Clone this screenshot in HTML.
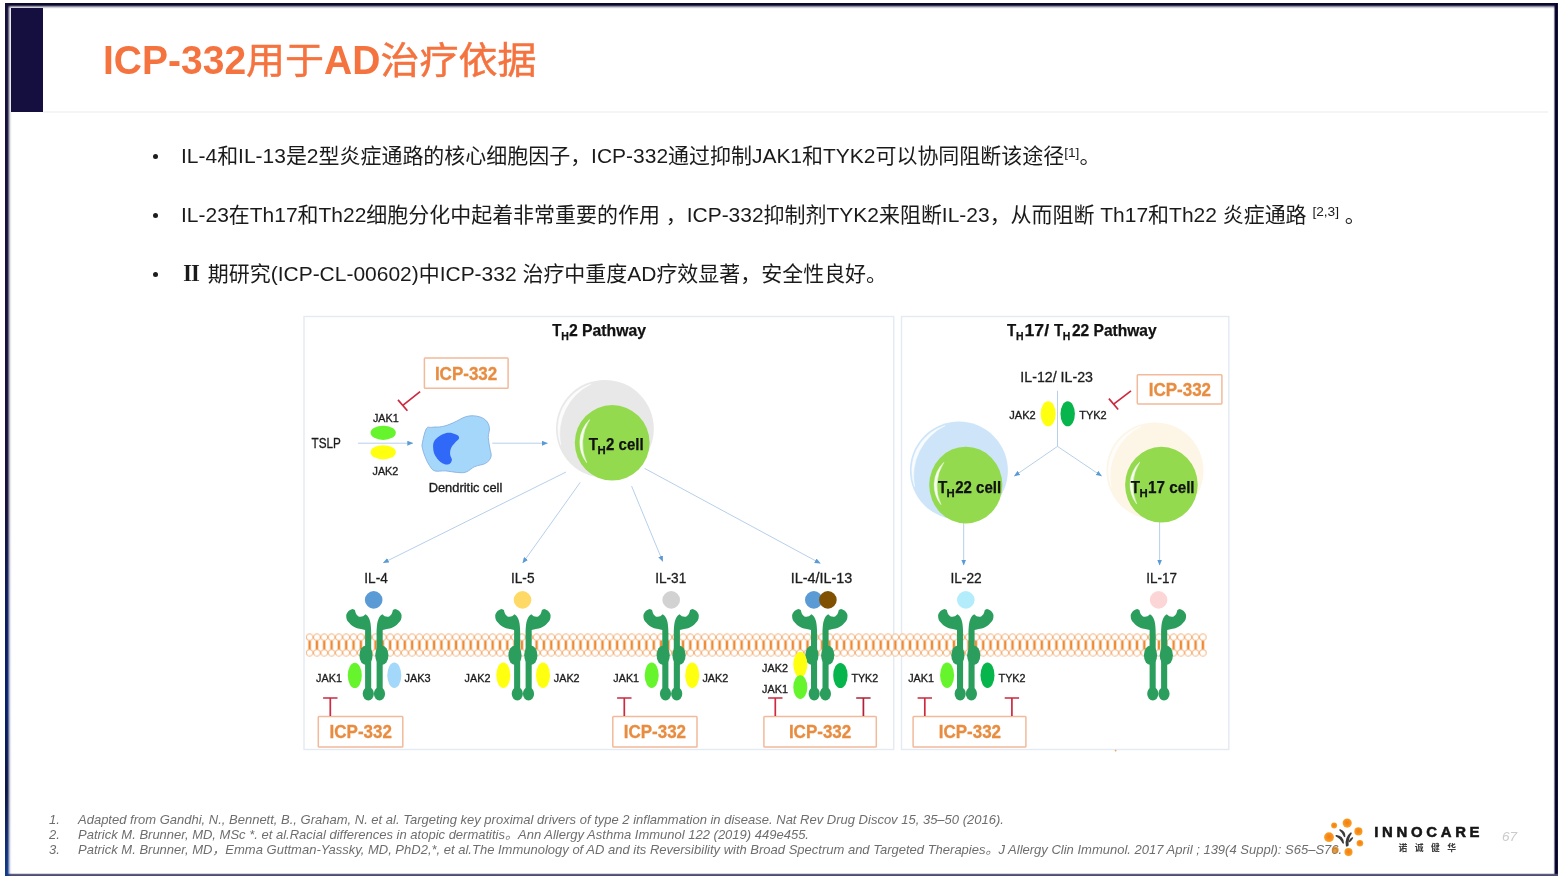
<!DOCTYPE html>
<html lang="zh-CN">
<head>
<meta charset="utf-8">
<title>ICP-332用于AD治疗依据</title>
<style>
html,body{margin:0;padding:0;background:#fff;}
body{width:1562px;height:880px;position:relative;overflow:hidden;font-family:"Liberation Sans","Noto Sans CJK SC",sans-serif;color:#1c1c1c;}
.abs{position:absolute;}
.bl,.fn,.fnn,#title,#pg{will-change:transform;}
#ft{left:5px;top:2.6px;width:1553px;height:6px;background:linear-gradient(to bottom,rgba(11,9,48,.8) 0,#0b0930 0.5px,#0b0930 2.1px,rgba(11,9,48,.6) 3px,rgba(11,9,48,.28) 4.1px,rgba(11,9,48,.08) 5px,rgba(11,9,48,0) 6px);}
#fl{left:4.9px;top:3px;width:7px;height:873px;background:linear-gradient(to bottom,#14103a 0,#14103a 58%,#0b1a5c 68%,#06206c 80%,#0b1446 90%,#123a8c 100%);-webkit-mask-image:linear-gradient(to right,#000 0,#000 2.3px,rgba(0,0,0,.8) 3px,rgba(0,0,0,.45) 4px,rgba(0,0,0,.16) 5px,rgba(0,0,0,.04) 6px,rgba(0,0,0,0) 7px);mask-image:linear-gradient(to right,#000 0,#000 2.3px,rgba(0,0,0,.8) 3px,rgba(0,0,0,.45) 4px,rgba(0,0,0,.16) 5px,rgba(0,0,0,.04) 6px,rgba(0,0,0,0) 7px);}
#fr{left:1553.4px;top:3px;width:4.7px;height:873px;background:linear-gradient(to right,rgba(12,10,48,0) 0,rgba(12,10,48,.1) 1px,rgba(12,10,48,.7) 1.7px,#0c0a30 2.5px,#020028 4px,#1a183c 4.7px);}
#fb{left:5px;top:872.6px;width:1553px;height:3.4px;background:linear-gradient(to bottom,rgba(70,69,110,0) 0,rgba(70,69,110,.35) 0.8px,#525178 1.6px,#4a4972 2.8px,rgba(70,69,110,.7) 3.4px);}
#bar{left:11px;top:8px;width:31.6px;height:103.7px;background:#150f40;}
#rule{left:43px;top:110.5px;width:1505px;height:2.4px;background:#f5f4f7;}
#title{left:102.5px;top:35.9px;font-size:39px;line-height:50px;color:#f4733f;font-weight:bold;white-space:nowrap;}
#title .cn{font-weight:400;-webkit-text-stroke:0.5px #f4733f;display:inline-block;transform:scaleY(0.955);transform-origin:50% 82%;}
#title .la{display:inline-block;transform:scaleY(1.045);transform-origin:50% 78%;}
.bl{white-space:nowrap;font-size:20.98px;line-height:30px;color:#1a1a1a;left:181px;}
.bl sup{font-size:13.7px;line-height:0;vertical-align:baseline;position:relative;top:-5.8px;}
.dot{width:5.4px;height:5.4px;border-radius:50%;background:#1d1d1d;left:153.1px;margin-top:-0.4px;}
.fn{white-space:nowrap;font-size:13px;line-height:15px;font-style:italic;color:#6e6e6e;left:77.5px;}
.fnn{white-space:nowrap;font-size:13px;line-height:15px;font-style:italic;color:#6e6e6e;left:49px;}
#pg{left:1502px;top:829.4px;font-size:13.6px;line-height:16px;color:#cbcbcb;font-style:italic;}
</style>
</head>
<body>
<div id="ft" class="abs"></div><div id="fr" class="abs"></div><div id="fb" class="abs"></div><div id="fl" class="abs"></div>
<div id="bar" class="abs"></div>
<div id="rule" class="abs"></div>
<div id="title" class="abs"><span class="la">ICP-332</span><span class="cn">用于</span><span class="la">AD</span><span class="cn">治疗依据</span></div>

<div class="abs dot" style="top:154px"></div>
<div class="abs bl" id="b1" style="top:141.3px">IL-4和IL-13是2型炎症通路的核心细胞因子，ICP-332通过抑制JAK1和TYK2可以协同阻断该途径<sup>[1]</sup>。</div>
<div class="abs dot" style="top:213px"></div>
<div class="abs bl" id="b2" style="top:200.3px">IL-23在Th17和Th22细胞分化中起着非常重要的作用 ，ICP-332抑制剂TYK2来阻断IL-23，从而阻断 Th17和Th22 炎症通路 <sup>[2,3]</sup> 。</div>
<div class="abs dot" style="top:272px"></div>
<div class="abs bl" id="b3" style="top:259.3px"><span style="font-family:'Noto Serif CJK SC',serif;font-weight:900;line-height:0">Ⅱ</span> 期研究(ICP-CL-00602)中ICP-332 治疗中重度AD疗效显著，安全性良好。</div>

<svg class="abs" style="left:0;top:0" width="1562" height="880" viewBox="0 0 1562 880" font-family="Liberation Sans, sans-serif">
<defs>
<pattern id="mem" x="305.94" y="633.4" width="7.322" height="23.2" patternUnits="userSpaceOnUse">
<path d="M3.661 6.5V16.7" stroke="#ee8a34" stroke-width="2.5" fill="none"/>
<circle cx="3.661" cy="3.8" r="3.3" fill="#fff" stroke="#f3b27c" stroke-width="0.95"/>
<circle cx="3.661" cy="19.4" r="3.3" fill="#fff" stroke="#f3b27c" stroke-width="0.95"/>
</pattern>
<g id="rec" fill="#2b9e5d">
<g id="half">
<path d="M-2.7 34C-2.7 28-3.1 22-4.8 18.5C-5.8 16.5-7.1 15-8.4 14.3C-9.8 16-11.8 16.8-13.5 16.8C-16.1 16.8-18.2 14.6-19 10L-21.2 9.1C-23.4 9.5-25.3 11-26.1 12C-27.2 13.5-27.7 14.5-27.7 15.7C-27.7 19-26.8 21-25 22.5C-22.5 25.5-20.5 26.5-19.6 27C-16.7 28.5-14.8 28.8-13 29L-8.8 29.9L-8.8 90L-2.7 90Z"/>
<ellipse cx="-7.9" cy="55.2" rx="6.6" ry="9.8"/>
<ellipse cx="-5.6" cy="93.8" rx="5.6" ry="6.7"/>
</g>
<use href="#half" transform="scale(-1,1)"/>
</g>
<marker id="ah" viewBox="0 0 6 5" refX="5.5" refY="2.5" markerWidth="6" markerHeight="5" markerUnits="userSpaceOnUse" orient="auto"><path d="M0 0L6 2.5L0 5Z" fill="#5b9bd5"/></marker>
</defs>
<rect x="304" y="316.5" width="589.7" height="433" fill="#fff" stroke="#e3eaf3" stroke-width="1.4"/>
<rect x="901.5" y="316.5" width="327.3" height="433" fill="#fff" stroke="#e3eaf3" stroke-width="1.4"/>
<text y="335.7" font-size="16.5" font-weight="bold" fill="#111" stroke="#111" stroke-width="0.25"><tspan x="552.3" textLength="9.2" lengthAdjust="spacingAndGlyphs">T</tspan><tspan x="561.2" dy="4.3" font-size="10.8" textLength="7.6" lengthAdjust="spacingAndGlyphs">H</tspan><tspan x="568.9" dy="-4.3" textLength="77.2" lengthAdjust="spacingAndGlyphs">2 Pathway</tspan></text>
<text y="335.7" font-size="16.5" font-weight="bold" fill="#111" stroke="#111" stroke-width="0.25"><tspan x="1007.1" textLength="9.2" lengthAdjust="spacingAndGlyphs">T</tspan><tspan x="1016.0" dy="4.3" font-size="10.8" textLength="7.6" lengthAdjust="spacingAndGlyphs">H</tspan><tspan x="1024.5" dy="-4.3" textLength="24.6" lengthAdjust="spacingAndGlyphs">17/</tspan></text>
<text y="335.7" font-size="16.5" font-weight="bold" fill="#111" stroke="#111" stroke-width="0.25"><tspan x="1053.9" textLength="9.2" lengthAdjust="spacingAndGlyphs">T</tspan><tspan x="1062.8" dy="4.3" font-size="10.8" textLength="7.6" lengthAdjust="spacingAndGlyphs">H</tspan><tspan x="1071.9" dy="-4.3" textLength="84.8" lengthAdjust="spacingAndGlyphs">22 Pathway</tspan></text>
<rect x="305.94" y="633.4" width="900.62" height="23.2" fill="url(#mem)"/>
<line x1="357.9" y1="443.2" x2="412.8" y2="443.2" stroke="#aecae8" stroke-width="0.9" marker-end="url(#ah)"/>
<line x1="492.3" y1="443.2" x2="547.4" y2="443.2" stroke="#aecae8" stroke-width="0.9" marker-end="url(#ah)"/>
<line x1="565.9" y1="472.1" x2="383.4" y2="562.8" stroke="#aecae8" stroke-width="0.9" marker-end="url(#ah)"/>
<line x1="580.2" y1="482.4" x2="522.8" y2="562.9" stroke="#aecae8" stroke-width="0.9" marker-end="url(#ah)"/>
<line x1="631.6" y1="486.1" x2="662.7" y2="561.4" stroke="#aecae8" stroke-width="0.9" marker-end="url(#ah)"/>
<line x1="644.6" y1="468.4" x2="820.2" y2="563.3" stroke="#aecae8" stroke-width="0.9" marker-end="url(#ah)"/>
<line x1="1057.5" y1="390.8" x2="1057.5" y2="446.4" stroke="#aecae8" stroke-width="0.9"/>
<line x1="1057.5" y1="446.4" x2="1014.4" y2="476" stroke="#aecae8" stroke-width="0.9" marker-end="url(#ah)"/>
<line x1="1057.5" y1="446.4" x2="1101.5" y2="476" stroke="#aecae8" stroke-width="0.9" marker-end="url(#ah)"/>
<line x1="963.7" y1="523" x2="963.7" y2="565" stroke="#aecae8" stroke-width="0.9" marker-end="url(#ah)"/>
<line x1="1159.6" y1="522" x2="1159.6" y2="565" stroke="#aecae8" stroke-width="0.9" marker-end="url(#ah)"/>
<circle cx="604.9" cy="428.8" r="48.9" fill="#e8e8e8"/>
<path d="M560.7 444.9A47.0 47.0 0 0 1 591.2 383.9A55.7 55.7 0 0 0 560.7 444.9Z" fill="#fff" stroke="#fff" stroke-width="0.5" stroke-linejoin="round" opacity="0.88"/>
<ellipse cx="612.2" cy="442.8" rx="37.4" ry="37.8" fill="#94da4f"/>
<path d="M586.7 462.7A32.4 32.4 0 0 1 589.7 419.5A44.6 44.6 0 0 0 586.7 462.7Z" fill="#fff" stroke="#fff" stroke-width="0.5" stroke-linejoin="round" opacity="0.93"/>
<circle cx="958.9" cy="470.6" r="49.0" fill="#cee5f9"/>
<path d="M914.6 486.7A47.1 47.1 0 0 1 945.1 425.6A55.8 55.8 0 0 0 914.6 486.7Z" fill="#fff" stroke="#fff" stroke-width="0.5" stroke-linejoin="round" opacity="0.88"/>
<ellipse cx="965.8" cy="485.1" rx="36.6" ry="38.4" fill="#94da4f"/>
<path d="M940.9 504.6A31.6 31.6 0 0 1 943.8 462.4A44.0 44.0 0 0 0 940.9 504.6Z" fill="#fff" stroke="#fff" stroke-width="0.5" stroke-linejoin="round" opacity="0.93"/>
<circle cx="1154.9" cy="470.9" r="48.5" fill="#fdf5e5"/>
<path d="M1111.1 486.8A46.6 46.6 0 0 1 1141.3 426.3A55.3 55.3 0 0 0 1111.1 486.8Z" fill="#fff" stroke="#fff" stroke-width="0.5" stroke-linejoin="round" opacity="0.88"/>
<ellipse cx="1161.4" cy="484.7" rx="36.3" ry="37.9" fill="#94da4f"/>
<path d="M1136.7 504.0A31.3 31.3 0 0 1 1139.7 462.2A43.7 43.7 0 0 0 1136.7 504.0Z" fill="#fff" stroke="#fff" stroke-width="0.5" stroke-linejoin="round" opacity="0.93"/>
<text y="450.0" font-size="16.9" font-weight="bold" fill="#111" stroke="#111" stroke-width="0.25"><tspan x="588.8" textLength="9.3" lengthAdjust="spacingAndGlyphs">T</tspan><tspan x="597.4" dy="4.1" font-size="11.4" textLength="8.2" lengthAdjust="spacingAndGlyphs">H</tspan><tspan x="606.0" dy="-4.1" textLength="37.6" lengthAdjust="spacingAndGlyphs">2 cell</tspan></text>
<text y="492.6" font-size="16.9" font-weight="bold" fill="#111" stroke="#111" stroke-width="0.25"><tspan x="938.0" textLength="9.3" lengthAdjust="spacingAndGlyphs">T</tspan><tspan x="946.6" dy="4.1" font-size="11.4" textLength="8.2" lengthAdjust="spacingAndGlyphs">H</tspan><tspan x="955.2" dy="-4.1" textLength="46.0" lengthAdjust="spacingAndGlyphs">22 cell</tspan></text>
<text y="492.6" font-size="16.9" font-weight="bold" fill="#111" stroke="#111" stroke-width="0.25"><tspan x="1130.8" textLength="9.3" lengthAdjust="spacingAndGlyphs">T</tspan><tspan x="1139.4" dy="4.1" font-size="11.4" textLength="8.2" lengthAdjust="spacingAndGlyphs">H</tspan><tspan x="1148.0" dy="-4.1" textLength="46.6" lengthAdjust="spacingAndGlyphs">17 cell</tspan></text>
<path d="M422.4 442.8C423.1 439.2 424.6 431.6 426.3 428.8C428.0 426.0 428.6 427.7 431.6 427.3C434.6 426.9 438.4 427.3 442.4 426.5C446.4 425.7 448.8 424.6 453.2 422.8C457.6 421.0 461.8 417.8 466.2 416.6C470.6 415.4 473.4 415.6 477.0 416.2C480.6 416.8 483.3 418.0 485.6 420.1C487.9 422.2 488.9 424.5 489.4 427.7C489.9 430.9 488.2 433.6 488.3 437.4C488.4 441.2 489.4 444.6 489.9 448.2C490.4 451.8 491.8 454.0 491.0 456.8C490.2 459.6 488.6 461.5 485.6 463.3C482.6 465.1 478.4 465.0 474.8 466.6C471.2 468.2 469.4 470.9 466.2 472.0C463.0 473.1 461.3 472.7 457.5 472.5C453.7 472.3 449.8 471.2 445.6 470.9C441.4 470.6 437.8 471.9 434.8 470.9C431.8 469.9 431.2 468.1 429.4 465.5C427.6 462.9 426.4 460.0 425.1 456.8C423.8 453.6 422.9 450.8 422.4 448.2C421.9 445.6 421.7 446.4 422.4 442.8Z" fill="#a5d7fb" stroke="#7fa9dc" stroke-width="0.8"/>
<path d="M433.2 448.2C433.1 444.8 432.9 442.6 435.4 439.6C437.9 436.6 441.6 434.4 445.6 433.3C449.6 432.2 452.7 433.3 455.4 434.2C458.1 435.1 459.1 436.3 459.1 437.9C459.1 439.5 457.0 440.2 455.4 442.3C453.8 444.4 452.0 445.7 451.0 448.2C450.0 450.7 450.0 452.3 450.2 454.7C450.4 457.1 452.2 458.2 451.9 460.1C451.6 462.0 450.8 463.6 448.9 464.2C447.0 464.8 445.0 464.8 442.4 463.3C439.8 461.8 437.7 459.8 435.9 456.8C434.1 453.8 433.3 451.6 433.2 448.2Z" fill="#3068f8"/>
<text x="428.7" y="492.3" font-size="12.6" fill="#1c1c1c" textLength="73.6" lengthAdjust="spacingAndGlyphs" stroke="#1c1c1c" stroke-width="0.35">Dendritic cell</text>
<text x="311.6" y="448.3" font-size="15.2" fill="#1c1c1c" textLength="29.3" lengthAdjust="spacingAndGlyphs" stroke="#1c1c1c" stroke-width="0.3">TSLP</text>
<ellipse cx="383.2" cy="432.8" rx="12.6" ry="7.1" fill="#66f52c"/>
<ellipse cx="383.2" cy="452.3" rx="12.6" ry="7.1" fill="#ffff10"/>
<text x="372.9" y="422.4" font-size="11.6" fill="#1c1c1c" textLength="25.8" lengthAdjust="spacingAndGlyphs" stroke="#1c1c1c" stroke-width="0.35">JAK1</text>
<text x="372.5" y="475.3" font-size="11.6" fill="#1c1c1c" textLength="25.8" lengthAdjust="spacingAndGlyphs" stroke="#1c1c1c" stroke-width="0.35">JAK2</text>
<text x="1020.3" y="382.3" font-size="14.8" fill="#1c1c1c" textLength="72.7" lengthAdjust="spacingAndGlyphs" stroke="#1c1c1c" stroke-width="0.3">IL-12/ IL-23</text>
<text x="1009.3" y="419.0" font-size="11.6" fill="#1c1c1c" textLength="26.4" lengthAdjust="spacingAndGlyphs" stroke="#1c1c1c" stroke-width="0.35">JAK2</text>
<ellipse cx="1048.2" cy="413.8" rx="7.5" ry="12.5" fill="#ffff10"/>
<ellipse cx="1067.7" cy="413.8" rx="7.2" ry="12.5" fill="#06b54b"/>
<text x="1079.2" y="419.0" font-size="11.6" fill="#1c1c1c" textLength="27.4" lengthAdjust="spacingAndGlyphs" stroke="#1c1c1c" stroke-width="0.35">TYK2</text>
<rect x="424.4" y="358" width="83.7" height="30.3" fill="#fff" stroke="#f2b99a" stroke-width="1.5" rx="0.8"/>
<text x="434.9" y="379.7" font-size="18.3" font-weight="bold" fill="#e88c40" textLength="62.4" lengthAdjust="spacingAndGlyphs" stroke="#e88c40" stroke-width="0.3">ICP-332</text>
<rect x="1137.3" y="374.8" width="84.6" height="29.1" fill="#fff" stroke="#f2b99a" stroke-width="1.5" rx="0.8"/>
<text x="1148.7" y="395.9" font-size="18.3" font-weight="bold" fill="#e88c40" textLength="62.4" lengthAdjust="spacingAndGlyphs" stroke="#e88c40" stroke-width="0.3">ICP-332</text>
<rect x="318.3" y="716.5" width="84.5" height="30.6" fill="#fff" stroke="#f2b99a" stroke-width="1.5" rx="0.8"/>
<text x="329.6" y="738.3" font-size="18.3" font-weight="bold" fill="#e88c40" textLength="62.4" lengthAdjust="spacingAndGlyphs" stroke="#e88c40" stroke-width="0.3">ICP-332</text>
<rect x="612.8" y="716.5" width="84.2" height="30.6" fill="#fff" stroke="#f2b99a" stroke-width="1.5" rx="0.8"/>
<text x="623.7" y="738.3" font-size="18.3" font-weight="bold" fill="#e88c40" textLength="62.4" lengthAdjust="spacingAndGlyphs" stroke="#e88c40" stroke-width="0.3">ICP-332</text>
<rect x="763.9" y="716.5" width="112.4" height="30.6" fill="#fff" stroke="#f2b99a" stroke-width="1.5" rx="0.8"/>
<text x="788.9" y="738.3" font-size="18.3" font-weight="bold" fill="#e88c40" textLength="62.4" lengthAdjust="spacingAndGlyphs" stroke="#e88c40" stroke-width="0.3">ICP-332</text>
<rect x="913.1" y="716.5" width="112.8" height="30.6" fill="#fff" stroke="#f2b99a" stroke-width="1.5" rx="0.8"/>
<text x="938.7" y="738.3" font-size="18.3" font-weight="bold" fill="#e88c40" textLength="62.4" lengthAdjust="spacingAndGlyphs" stroke="#e88c40" stroke-width="0.3">ICP-332</text>
<path d="M323.1 698H337.5M330.3 698V716" stroke="#cc2a40" stroke-width="1.7" fill="none"/>
<path d="M617.0999999999999 698H631.5M624.3 698V716" stroke="#cc2a40" stroke-width="1.7" fill="none"/>
<path d="M768.0999999999999 698H782.5M775.3 698V716" stroke="#cc2a40" stroke-width="1.7" fill="none"/>
<path d="M917.5999999999999 698H932.0M924.8 698V716" stroke="#cc2a40" stroke-width="1.7" fill="none"/>
<path d="M1004.6999999999999 698H1019.1M1011.9 698V716" stroke="#cc2a40" stroke-width="1.7" fill="none"/>
<path d="M856.1999999999999 698H870.6M863.4 698V716" stroke="#b02238" stroke-width="1.7" fill="none"/>
<path d="M420.1 391.6L402.8 405.4M398 399.9L407.4 410.8" stroke="#cc2a40" stroke-width="1.7" fill="none"/>
<path d="M1131 390.8L1114.3 403.6M1108.9 398.6L1118.2 409.5" stroke="#cc2a40" stroke-width="1.7" fill="none"/>
<text x="364.3" y="582.5" font-size="14.8" fill="#1c1c1c" textLength="23.5" lengthAdjust="spacingAndGlyphs" stroke="#1c1c1c" stroke-width="0.3">IL-4</text>
<circle cx="373.7" cy="599.9" r="8.8" fill="#5b9bd5"/>
<use href="#rec" x="373.9" y="600"/>
<text x="316.1" y="682.4" font-size="11.6" fill="#1c1c1c" textLength="25.8" lengthAdjust="spacingAndGlyphs" stroke="#1c1c1c" stroke-width="0.35">JAK1</text>
<ellipse cx="354.8" cy="675.4" rx="7" ry="12.7" fill="#66f52c"/>
<ellipse cx="394.3" cy="675.2" rx="7" ry="12.7" fill="#a4d8fa"/>
<text x="404.5" y="682.4" font-size="11.6" fill="#1c1c1c" textLength="26.2" lengthAdjust="spacingAndGlyphs" stroke="#1c1c1c" stroke-width="0.35">JAK3</text>
<text x="511.0" y="582.5" font-size="14.8" fill="#1c1c1c" textLength="23.5" lengthAdjust="spacingAndGlyphs" stroke="#1c1c1c" stroke-width="0.3">IL-5</text>
<circle cx="522.5" cy="599.9" r="8.8" fill="#ffd966"/>
<use href="#rec" x="522.9" y="600"/>
<text x="464.6" y="682.4" font-size="11.6" fill="#1c1c1c" textLength="25.8" lengthAdjust="spacingAndGlyphs" stroke="#1c1c1c" stroke-width="0.35">JAK2</text>
<ellipse cx="503.3" cy="675.2" rx="7" ry="12.7" fill="#ffff10"/>
<ellipse cx="543" cy="675.2" rx="7" ry="12.7" fill="#ffff10"/>
<text x="553.8" y="682.4" font-size="11.6" fill="#1c1c1c" textLength="25.8" lengthAdjust="spacingAndGlyphs" stroke="#1c1c1c" stroke-width="0.35">JAK2</text>
<text x="655.2" y="582.5" font-size="14.8" fill="#1c1c1c" textLength="31.1" lengthAdjust="spacingAndGlyphs" stroke="#1c1c1c" stroke-width="0.3">IL-31</text>
<circle cx="671.2" cy="599.9" r="8.8" fill="#d2d2d2"/>
<use href="#rec" x="671.1" y="600"/>
<text x="613.3" y="682.4" font-size="11.6" fill="#1c1c1c" textLength="25.8" lengthAdjust="spacingAndGlyphs" stroke="#1c1c1c" stroke-width="0.35">JAK1</text>
<ellipse cx="651.7" cy="675.2" rx="7" ry="12.7" fill="#66f52c"/>
<ellipse cx="692.2" cy="675.2" rx="7" ry="12.7" fill="#ffff10"/>
<text x="702.4" y="682.4" font-size="11.6" fill="#1c1c1c" textLength="25.8" lengthAdjust="spacingAndGlyphs" stroke="#1c1c1c" stroke-width="0.35">JAK2</text>
<text x="790.8" y="582.5" font-size="14.8" fill="#1c1c1c" textLength="61.4" lengthAdjust="spacingAndGlyphs" stroke="#1c1c1c" stroke-width="0.3">IL-4/IL-13</text>
<circle cx="813.8" cy="599.9" r="8.8" fill="#5b9bd5"/>
<circle cx="827.9" cy="599.9" r="8.8" fill="#7f5100"/>
<use href="#rec" x="819.8" y="600"/>
<text x="762.1" y="672.1" font-size="11.6" fill="#1c1c1c" textLength="25.8" lengthAdjust="spacingAndGlyphs" stroke="#1c1c1c" stroke-width="0.35">JAK2</text>
<ellipse cx="800.3" cy="664.4" rx="7" ry="12.7" fill="#ffff10"/>
<text x="762.1" y="693.4" font-size="11.6" fill="#1c1c1c" textLength="25.8" lengthAdjust="spacingAndGlyphs" stroke="#1c1c1c" stroke-width="0.35">JAK1</text>
<ellipse cx="800.3" cy="687.2" rx="7" ry="11.9" fill="#66f52c"/>
<ellipse cx="840.4" cy="675.5" rx="7.2" ry="12.6" fill="#06b54b"/>
<text x="851.5" y="682.4" font-size="11.6" fill="#1c1c1c" textLength="26.6" lengthAdjust="spacingAndGlyphs" stroke="#1c1c1c" stroke-width="0.35">TYK2</text>
<text x="950.4" y="582.5" font-size="14.8" fill="#1c1c1c" textLength="31.3" lengthAdjust="spacingAndGlyphs" stroke="#1c1c1c" stroke-width="0.3">IL-22</text>
<circle cx="965.8" cy="599.9" r="8.8" fill="#b3edfc"/>
<use href="#rec" x="965.8" y="600"/>
<text x="908.2" y="682.4" font-size="11.6" fill="#1c1c1c" textLength="25.8" lengthAdjust="spacingAndGlyphs" stroke="#1c1c1c" stroke-width="0.35">JAK1</text>
<ellipse cx="947.1" cy="675.2" rx="7" ry="12.7" fill="#66f52c"/>
<ellipse cx="987.5" cy="675.2" rx="7" ry="12.7" fill="#06b54b"/>
<text x="998.6" y="682.4" font-size="11.6" fill="#1c1c1c" textLength="26.9" lengthAdjust="spacingAndGlyphs" stroke="#1c1c1c" stroke-width="0.35">TYK2</text>
<text x="1146.3" y="582.5" font-size="14.8" fill="#1c1c1c" textLength="30.7" lengthAdjust="spacingAndGlyphs" stroke="#1c1c1c" stroke-width="0.3">IL-17</text>
<circle cx="1158.6" cy="599.9" r="8.8" fill="#fcd6d6"/>
<use href="#rec" x="1158.4" y="600"/>
<circle cx="1115.6" cy="750.6" r="0.9" fill="#e9a060"/>
</svg>

<div class="abs fnn" style="top:811.6px">1.</div>
<div class="abs fn" id="f1" style="top:811.6px">Adapted from Gandhi, N., Bennett, B., Graham, N. et al. Targeting key proximal drivers of type 2 inflammation in disease. Nat Rev Drug Discov 15, 35–50 (2016).</div>
<div class="abs fnn" style="top:826.6px">2.</div>
<div class="abs fn" id="f2" style="top:826.6px">Patrick M. Brunner, MD, MSc *. et al.Racial differences in atopic dermatitis。Ann Allergy Asthma Immunol 122 (2019) 449e455.</div>
<div class="abs fnn" style="top:841.6px">3.</div>
<div class="abs fn" id="f3" style="top:841.6px">Patrick M. Brunner, MD，Emma Guttman-Yassky, MD, PhD2,*, et al.The Immunology of AD and its Reversibility with Broad Spectrum and Targeted Therapies。J Allergy Clin Immunol. 2017 April ; 139(4 Suppl): S65–S76.</div>

<svg class="abs" style="left:1310px;top:810px" width="200" height="56" viewBox="1310 810 200 56" font-family="Liberation Sans, Noto Sans CJK SC, sans-serif">
<defs><radialGradient id="og" cx="0.5" cy="0.45" r="0.6"><stop offset="0" stop-color="#f47a10"/><stop offset="0.55" stop-color="#f7921c"/><stop offset="1" stop-color="#f9ad3a"/></radialGradient></defs>
<circle cx="1347.2" cy="823.1" r="4.6" fill="url(#og)"/>
<circle cx="1334.1" cy="825.6" r="3.0" fill="url(#og)"/>
<circle cx="1358.4" cy="831.4" r="4.1" fill="url(#og)"/>
<circle cx="1329.0" cy="837.2" r="4.9" fill="url(#og)"/>
<circle cx="1359.9" cy="843.2" r="3.3" fill="url(#og)"/>
<circle cx="1348.5" cy="852.1" r="4.1" fill="url(#og)"/>
<circle cx="1335.2" cy="850" r="3.5" fill="#d98420" opacity="0.82"/>
<path d="M1340 829.9C1343 831 1344.8 833.2 1344.6 836.4C1343.6 834 1342.3 831.8 1340 829.9Z M1336.2 835.8C1340.2 836.2 1343 838.6 1343.2 843C1341.8 839.8 1339.6 837.4 1336.2 835.8Z M1351 833.2C1347.6 836 1345.6 840.4 1346.6 845.8C1347.2 845.9 1347.7 845.6 1347.9 845.2C1347.5 840.6 1348.6 836.6 1351 833.2Z M1352.4 838C1350.9 838.8 1349.9 839.9 1349.6 841.4C1350.8 840.4 1351.7 839.3 1352.4 838Z" fill="#3a3a3a" stroke="#3a3a3a" stroke-width="1.5" stroke-linejoin="round"/>
<text x="1374.3" y="837.2" font-size="14.9" font-weight="bold" fill="#151515" stroke="#151515" stroke-width="0.55" textLength="105.2" lengthAdjust="spacing">INNOCARE</text>
<text x="1398.4" y="850.6" font-size="8.8" font-weight="bold" fill="#3a3a3a" textLength="57.6" lengthAdjust="spacing">诺诚健华</text>
</svg>
<div id="pg" class="abs">67</div>
</body>
</html>
